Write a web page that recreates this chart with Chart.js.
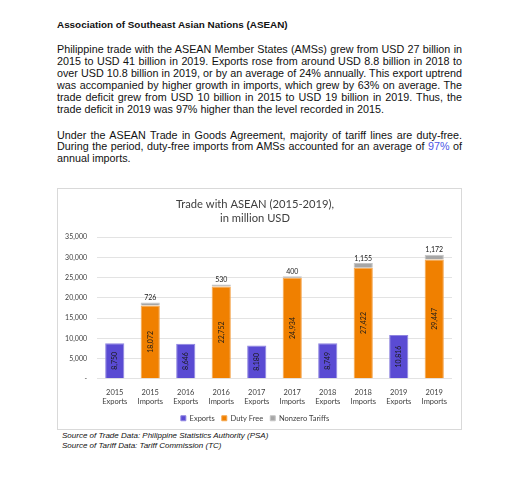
<!DOCTYPE html>
<html>
<head>
<meta charset="utf-8">
<script src="https://cdn.jsdelivr.net/npm/chart.js@4"></script>
<style>
  body { margin: 0; background: #fff; width: 519px; height: 480px; position: relative; overflow: hidden; }
  .txt { position: absolute; left: 57px; width: 405px; font-family: "Liberation Sans", Arial, sans-serif; color: #111; }
  .head { top: 19px; font-size: 9.9px; font-weight: bold; }
  .para { font-size: 10.75px; line-height: 11.9px; }
  .para div { text-align: justify; text-align-last: justify; white-space: nowrap; }
  .para div.last { text-align-last: left; }
  .blue { color: #4b55e6; }
  #box { position: absolute; left: 57px; top: 188px; width: 403px; height: 240px; border: 1px solid #d9d9d9; }
  .src { position: absolute; left: 62px; top: 431px; font-family: "Liberation Sans", Arial, sans-serif; font-style: italic; font-size: 8px; line-height: 9.5px; color: #111; }
</style>
</head>
<body>
<div class="txt head">Association of Southeast Asian Nations (ASEAN)</div>
<div class="txt para" style="top:44px">
  <div>Philippine trade with the ASEAN Member States (AMSs) grew from USD 27 billion in</div>
  <div>2015 to USD 41 billion in 2019. Exports rose from around USD 8.8 billion in 2018 to</div>
  <div>over USD 10.8 billion in 2019, or by an average of 24% annually. This export uptrend</div>
  <div>was accompanied by higher growth in imports, which grew by 63% on average. The</div>
  <div>trade deficit grew from USD 10 billion in 2015 to USD 19 billion in 2019. Thus, the</div>
  <div class="last">trade deficit in 2019 was 97% higher than the level recorded in 2015.</div>
</div>
<div class="txt para" style="top:129.5px">
  <div>Under the ASEAN Trade in Goods Agreement, majority of tariff lines are duty-free.</div>
  <div>During the period, duty-free imports from AMSs accounted for an average of <span class="blue">97%</span> of</div>
  <div class="last">annual imports.</div>
</div>
<div id="box"><canvas id="chart" width="403" height="240"></canvas></div>
<div class="src">Source of Trade Data: Philippine Statistics Authority (PSA)<br>Source of Tariff Data: Tariff Commission (TC)</div>
<script>
const years = ["2015", "2016", "2017", "2018", "2019"];
const exportsVals = [8750, 8646, 8180, 8749, 10816];
const dutyFree = [18072, 22752, 24934, 27422, 29447];
const nonzeroTariffs = [726, 530, 400, 1155, 1172];
const yTicks = [0, 5000, 10000, 15000, 20000, 25000, 30000, 35000];

// each year gets an Exports column and an Imports column
const labels = [];
const expData = [], dfData = [], nzData = [];
years.forEach((y, i) => {
  labels.push([y, "Exports"], [y, "Imports"]);
  expData.push(exportsVals[i], null);
  dfData.push(null, dutyFree[i]);
  nzData.push(null, nonzeroTariffs[i]);
});

const fmt = (v) => v.toLocaleString("en-US");
const chartFont = "Lato, 'Open Sans', sans-serif";

// value labels: rotated inside bars, horizontal above the tariff part
const barLabels = {
  id: "barLabels",
  afterDatasetsDraw(chart) {
    const c = chart.ctx;
    chart.data.datasets.forEach((ds, di) => {
      const meta = chart.getDatasetMeta(di);
      meta.data.forEach((bar, i) => {
        const v = ds.data[i];
        if (v == null) return;
        c.save();
        c.font = "7px " + chartFont;
        c.fillStyle = "#1a1a1a";
        if (di === 2) {
          c.textAlign = "center";
          c.textBaseline = "bottom";
          c.fillText(fmt(v), bar.x, bar.y - 1);
        } else {
          const mid = (bar.y + bar.base) / 2;
          c.translate(bar.x, mid);
          c.rotate(-Math.PI / 2);
          c.textAlign = "center";
          c.textBaseline = "middle";
          c.fillText(fmt(v), 0, 0);
        }
        c.restore();
      });
    });
  },
};

new Chart(document.getElementById("chart"), {
  type: "bar",
  data: {
    labels: labels,
    datasets: [
      { label: "Exports", data: expData, backgroundColor: "#5a4bd3", borderColor: "#8e84e0", borderWidth: 1 },
      { label: "Duty Free", data: dfData, backgroundColor: "#f08000", borderColor: "#f5a64d", borderWidth: 1 },
      { label: "Nonzero Tariffs", data: nzData, backgroundColor: "#a6a6a6", borderColor: "#c4c4c4", borderWidth: 1 },
    ],
  },
  options: {
    responsive: false,
    animation: false,
    categoryPercentage: 1,
    barPercentage: 0.54,
    layout: { padding: { left: 0, right: 9, top: 0, bottom: -3 } },
    scales: {
      x: {
        stacked: true,
        grid: { display: false },
        border: { display: false },
        ticks: { color: "#404040", font: { family: chartFont, size: 7.5, lineHeight: 1.25 }, maxRotation: 0, autoSkip: false, padding: 1 },
      },
      y: {
        stacked: true,
        min: 0,
        max: 35000,
        afterBuildTicks: (s) => { s.ticks = yTicks.map((v) => ({ value: v })); },
        afterFit: (s) => { s.width = 39; },
        grid: { color: "#e3e3e3", drawTicks: false },
        border: { display: false },
        ticks: {
          color: "#404040",
          font: { family: chartFont, size: 7 },
          padding: 10,
          callback: (v) => (v === 0 ? "-" : fmt(v)),
        },
      },
    },
    plugins: {
      title: {
        display: true,
        text: ["Trade with ASEAN (2015-2019),", "in million USD"],
        color: "#404040",
        font: { family: chartFont, size: 11.2, weight: "normal", lineHeight: 1.25 },
        padding: { top: 8, bottom: 12 },
      },
      legend: {
        position: "bottom",
        labels: { boxWidth: 5, boxHeight: 5, padding: 7, color: "#404040", font: { family: chartFont, size: 7.5 } },
      },
      tooltip: { enabled: false },
    },
  },
  plugins: [barLabels],
});
</script>
</body>
</html>
